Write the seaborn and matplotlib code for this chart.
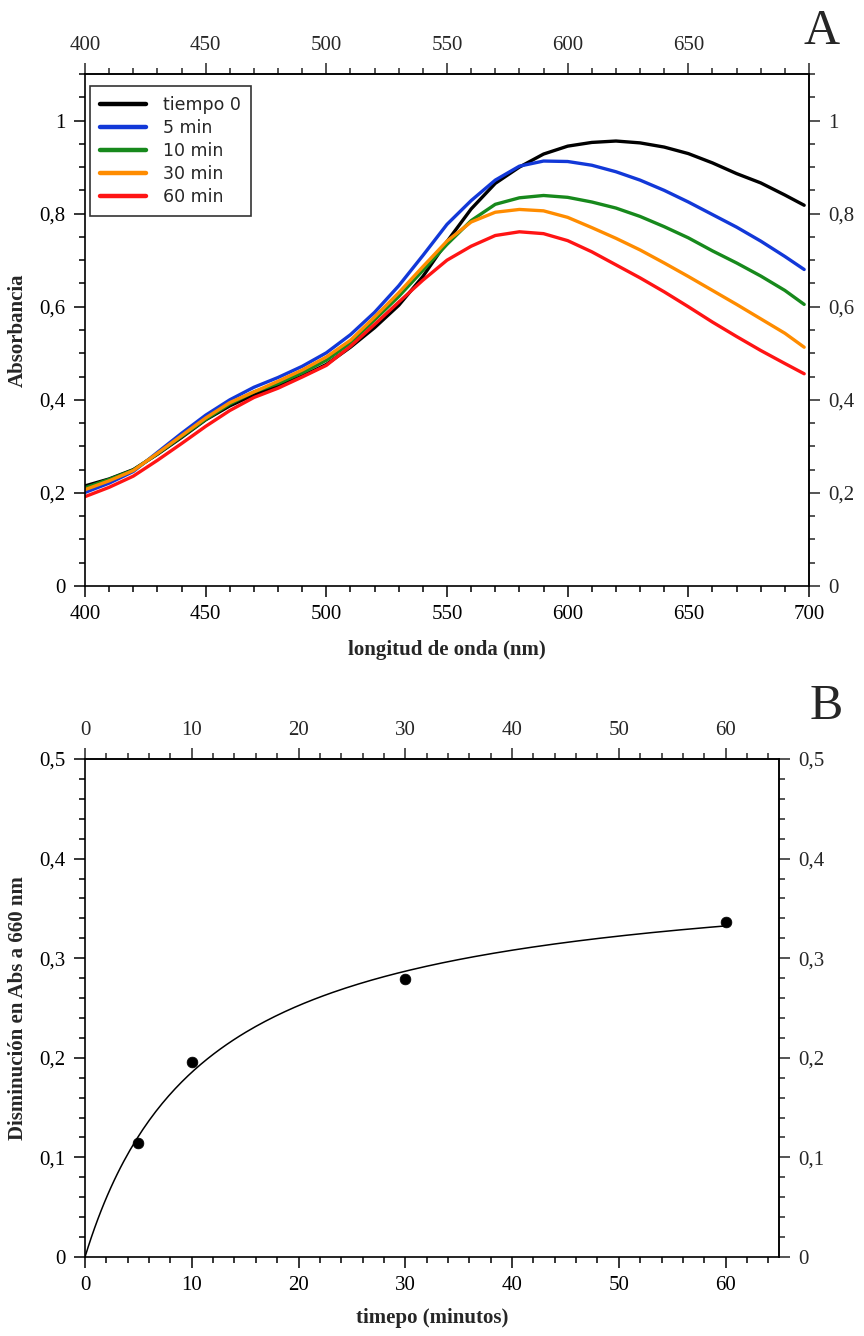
import numpy as np
import pandas as pd
import matplotlib
matplotlib.use("Agg")
import matplotlib.pyplot as plt
import seaborn as sns
from matplotlib.ticker import MultipleLocator, FixedLocator

# ---------------- data: panel A (absorption spectra) ----------------
wavelength = [400, 410, 420, 430, 440, 450, 460, 470, 480, 490, 500, 510, 520,
              530, 540, 550, 560, 570, 580, 590, 600, 610, 620, 630, 640, 650,
              660, 670, 680, 690, 698]
abs_t0 = [0.215, 0.230, 0.250, 0.283, 0.319, 0.357, 0.387, 0.411, 0.430, 0.451, 0.476, 0.513, 0.555,
          0.603, 0.665, 0.740, 0.810, 0.865, 0.900, 0.928, 0.945, 0.953, 0.956, 0.952, 0.943, 0.929,
          0.909, 0.886, 0.866, 0.840, 0.818]
abs_5 = [0.201, 0.221, 0.246, 0.287, 0.328, 0.367, 0.400, 0.427, 0.448, 0.472, 0.501, 0.540, 0.588,
         0.645, 0.710, 0.777, 0.828, 0.872, 0.902, 0.913, 0.912, 0.904, 0.890, 0.872, 0.850, 0.825,
         0.798, 0.771, 0.741, 0.708, 0.680]
abs_10 = [0.211, 0.229, 0.249, 0.284, 0.321, 0.358, 0.391, 0.417, 0.435, 0.458, 0.485, 0.522, 0.572,
          0.622, 0.678, 0.734, 0.785, 0.820, 0.834, 0.839, 0.835, 0.825, 0.812, 0.794, 0.772, 0.748,
          0.720, 0.694, 0.666, 0.635, 0.605]
abs_30 = [0.207, 0.226, 0.248, 0.285, 0.323, 0.361, 0.394, 0.417, 0.440, 0.464, 0.492, 0.528, 0.578,
          0.630, 0.686, 0.741, 0.782, 0.803, 0.809, 0.806, 0.792, 0.770, 0.747, 0.722, 0.694, 0.665,
          0.635, 0.605, 0.574, 0.543, 0.513]
abs_60 = [0.192, 0.212, 0.236, 0.270, 0.306, 0.343, 0.377, 0.405, 0.425, 0.449, 0.474, 0.515, 0.562,
          0.610, 0.657, 0.700, 0.730, 0.753, 0.761, 0.757, 0.742, 0.718, 0.690, 0.662, 0.632, 0.600,
          0.567, 0.536, 0.506, 0.478, 0.456]
series_names = ["tiempo 0", "5 min", "10 min", "30 min", "60 min"]
series_colors = ["#000000", "#1238d8", "#17891c", "#ff8c00", "#ff1414"]

# ---------------- data: panel B (decrease at 660 nm) ----------------
time_min = [5, 10, 30, 60]
abs_decrease = [0.114, 0.196, 0.279, 0.336]

# tick labels
a_xticks = [400, 450, 500, 550, 600, 650, 700]
a_xtop_labels = ["400", "450", "500", "550", "600", "650", ""]
a_yticks = [0, 0.2, 0.4, 0.6, 0.8, 1.0]
a_ylabels = ["0", "0,2", "0,4", "0,6", "0,8", "1"]
b_xticks = [0, 10, 20, 30, 40, 50, 60]
b_yticks = [0, 0.1, 0.2, 0.3, 0.4, 0.5]
b_ylabels = ["0", "0,1", "0,2", "0,3", "0,4", "0,5"]

# ---------------- build tables ----------------
rows = []
for name, vals in zip(series_names, [abs_t0, abs_5, abs_10, abs_30, abs_60]):
    for w, v in zip(wavelength, vals):
        rows.append({"wl": w, "abs": v, "serie": name})
dfA = pd.DataFrame(rows)
dfB = pd.DataFrame({"t": time_min, "d": abs_decrease})

# hyperbolic fit  d = Vmax * t / (K + t)  (least squares from the points)
t_arr = np.array(time_min, float)
d_arr = np.array(abs_decrease, float)
best = None
for K in np.linspace(1, 40, 3901):
    f = t_arr / (K + t_arr)
    V = (d_arr * f).sum() / (f * f).sum()
    sse = ((d_arr - V * f) ** 2).sum()
    if best is None or sse < best[0]:
        best = (sse, K, V)
_, K_fit, V_fit = best
t_fit = np.linspace(0, 60, 200)
dfFit = pd.DataFrame({"t": t_fit, "d": V_fit * t_fit / (K_fit + t_fit)})

# ---------------- style ----------------
sns.set_theme(style="ticks")
plt.rcParams["font.family"] = ["Liberation Serif", "DejaVu Serif"]
plt.rcParams["axes.linewidth"] = 1.2
W, H = 864, 1336
fig = plt.figure(figsize=(W / 100, H / 100), dpi=100)
fig.patch.set_facecolor("white")

def px_axes(left, right, top, bottom):
    return fig.add_axes([left / W, 1 - bottom / H, (right - left) / W, (bottom - top) / H])

TICKFS = 15
LABELFS = 15

def style_axes(ax, xmin_loc, ymin_loc):
    ax.set_facecolor("white")
    for s in ax.spines.values():
        s.set_visible(True)
        s.set_color("black")
        s.set_linewidth(1.2)
    ax.xaxis.set_minor_locator(MultipleLocator(xmin_loc))
    ax.yaxis.set_minor_locator(MultipleLocator(ymin_loc))
    ax.tick_params(which="both", direction="out", colors="black", width=1.1,
                   top=False, right=False, bottom=True, left=True,
                   labeltop=False, labelright=False, labelsize=TICKFS)
    ax.tick_params(which="major", length=8, pad=6)
    ax.tick_params(which="minor", length=4)
    ax.grid(False)

def style_secondary(sec, minor):
    sec.xaxis.set_minor_locator(MultipleLocator(minor)) if hasattr(sec, "xaxis") else None

# ================= Panel A =================
axA = px_axes(85, 809, 74, 586)
sns.lineplot(data=dfA, x="wl", y="abs", hue="serie", hue_order=series_names,
             palette=series_colors, linewidth=2.4, ax=axA, legend=True)
axA.set_xlim(400, 700)
axA.set_ylim(0, 1.1)
style_axes(axA, 10, 0.05)
axA.xaxis.set_major_locator(FixedLocator(a_xticks))
axA.yaxis.set_major_locator(FixedLocator(a_yticks))
axA.set_yticklabels(a_ylabels)

secA = axA.secondary_xaxis("top")
secA.set_xticks(a_xticks)
secA.set_xticklabels(a_xtop_labels)
secA.xaxis.set_minor_locator(MultipleLocator(10))
secAy = axA.secondary_yaxis("right")
secAy.set_yticks(a_yticks)
secAy.set_yticklabels(a_ylabels)
secAy.yaxis.set_minor_locator(MultipleLocator(0.05))
for sec in (secA, secAy):
    sec.tick_params(which="both", direction="out", width=1.1, labelsize=TICKFS)
    sec.tick_params(which="major", length=8, pad=6)
    sec.tick_params(which="minor", length=4)

axA.set_xlabel("longitud de onda (nm)", fontsize=LABELFS, fontweight="bold", va="center")
axA.xaxis.set_label_coords(0.5, (586 - 650) / 512)
axA.set_ylabel("Absorbancia", fontsize=LABELFS, fontweight="bold", va="center")
axA.yaxis.set_label_coords((18 - 85) / 724, 0.5)

leg = axA.legend(loc="upper left", bbox_to_anchor=(5 / 724, 1 - 12 / 512),
                 frameon=True, fancybox=False, shadow=False,
                 prop={"family": "DejaVu Sans", "size": 12.5},
                 handlelength=2.6, handletextpad=1.0, labelspacing=0.28,
                 borderpad=0.6, borderaxespad=0.0)
leg.get_frame().set_edgecolor("black")
leg.get_frame().set_linewidth(1.2)
for lh in leg.get_lines():
    lh.set_linewidth(3.2)

# ================= Panel B =================
axB = px_axes(85, 779, 759, 1257)
sns.lineplot(data=dfFit, x="t", y="d", color="black", linewidth=1.1, ax=axB)
sns.scatterplot(data=dfB, x="t", y="d", color="black", s=60, edgecolor="black",
                linewidth=0.5, ax=axB, zorder=5)
axB.set_xlim(0, 65)
axB.set_ylim(0, 0.5)
style_axes(axB, 2, 0.02)
axB.xaxis.set_major_locator(FixedLocator(b_xticks))
axB.yaxis.set_major_locator(FixedLocator(b_yticks))
axB.set_yticklabels(b_ylabels)

secB = axB.secondary_xaxis("top")
secB.set_xticks(b_xticks)
secB.xaxis.set_minor_locator(MultipleLocator(2))
secBy = axB.secondary_yaxis("right")
secBy.set_yticks(b_yticks)
secBy.set_yticklabels(b_ylabels)
secBy.yaxis.set_minor_locator(MultipleLocator(0.02))
for sec in (secB, secBy):
    sec.tick_params(which="both", direction="out", width=1.1, labelsize=TICKFS)
    sec.tick_params(which="major", length=8, pad=6)
    sec.tick_params(which="minor", length=4)

axB.set_xlabel("timepo (minutos)", fontsize=LABELFS, fontweight="bold", va="center")
axB.xaxis.set_label_coords(0.5, (1257 - 1318) / 498)
axB.set_ylabel("Disminución en Abs a 660 nm", fontsize=LABELFS, fontweight="bold", va="center")
axB.yaxis.set_label_coords((18 - 85) / 694, 0.5)

# panel letters
fig.text(822 / W, 1 - 32 / H, "A", fontsize=36, ha="center", va="center")
fig.text(826 / W, 1 - 707 / H, "B", fontsize=36, ha="center", va="center")

fig.savefig("out.png", dpi=100, facecolor="white")
